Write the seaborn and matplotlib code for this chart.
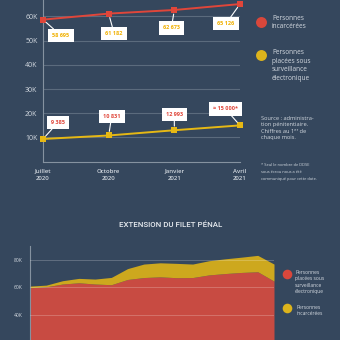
import matplotlib
matplotlib.use("Agg")
import matplotlib.pyplot as plt
import seaborn as sns
import pandas as pd

# ---------------- data ----------------
months = ["Juillet\n2020", "Octobre\n2020", "Janvier\n2021", "Avril\n2021"]
incarcerees = [58695, 61182, 62673, 65126]
surveillance = [9385, 10831, 12993, 15000]
incarcerees_labels = ["58 695", "61 182", "62 673", "65 126"]
surveillance_labels = ["9 385", "10 831", "12 993", "≈ 15 000*"]
top_yticks = [10000, 20000, 30000, 40000, 50000, 60000]
top_ytick_labels = ["10K", "20K", "30K", "40K", "50K", "60K"]

area_months = list(range(16))
area_red = [59700, 60400, 62400, 63300, 62400, 61900, 65700, 67100,
            67600, 67000, 67100, 69000, 70000, 70800, 71300, 64500]
area_yellow = [1200, 1200, 2400, 3200, 3600, 5300, 7900, 9800,
               10200, 10400, 9800, 10300, 10700, 11100, 11900, 12400]
bottom_yticks = [20000, 40000, 60000, 80000]
bottom_ytick_labels = ["20K", "40K", "60K", "80K"]

BG = "#35475d"
RED = "#e0463a"
YEL = "#e6b814"
AREA_RED = "#c84b42"
AREA_YEL = "#cda81e"
TXT = "#d3d9e0"
AXC = "#8592a0"
GRID = "#5b6b7d"

sns.set_style("white", {"axes.facecolor": BG, "figure.facecolor": BG})
plt.rcParams["font.family"] = ["Open Sans", "DejaVu Sans"]

fig = plt.figure(figsize=(3.4, 3.4), dpi=100)
fig.patch.set_facecolor(BG)

# ---------------- top chart ----------------
ax1 = fig.add_axes([43 / 340, 1 - 161.7 / 340, 197 / 340, 161.7 / 340])
ax1.set_facecolor(BG)
df = pd.DataFrame({
    "x": list(range(4)) * 2,
    "y": incarcerees + surveillance,
    "serie": ["inc"] * 4 + ["surv"] * 4,
})
sns.lineplot(data=df, x="x", y="y", hue="serie", palette={"inc": RED, "surv": YEL},
             marker="s", markersize=4.2, markeredgewidth=0, linewidth=1.4,
             ax=ax1, legend=False)
for ln in ax1.lines:
    ln.set_clip_on(False)
    ln.set_zorder(5)
ax1.set_xlim(0, 3)
ax1.set_ylim(0, 66800)
ax1.set_yticks(top_yticks)
ax1.set_yticklabels(top_ytick_labels)
ax1.set_xticks(range(4))
ax1.set_xticklabels(months, linespacing=1.5)
ax1.set_xlabel("")
ax1.set_ylabel("")
ax1.yaxis.grid(True, color=GRID, lw=0.8)
ax1.xaxis.grid(False)
ax1.tick_params(axis="y", length=0, pad=4, labelsize=5, labelcolor=TXT)
ax1.tick_params(axis="x", length=3, width=0.8, color=AXC, pad=2,
                labelsize=4.3, labelcolor=TXT)
for lab in ax1.get_xticklabels():
    lab.set_fontweight("semibold")
for s in ["top", "right"]:
    ax1.spines[s].set_visible(False)
for s in ["left", "bottom"]:
    ax1.spines[s].set_color(AXC)
    ax1.spines[s].set_linewidth(0.8)

inc_offsets = [(18, -16), (5.5, -20), (-3, -18), (-14, -19.6)]
surv_offsets = [(15, 16.5), (3, 19), (0, 16), (-14.5, 16.4)]
for i, (v, lab) in enumerate(zip(incarcerees, incarcerees_labels)):
    ax1.annotate(lab, xy=(i, v), xytext=inc_offsets[i], textcoords="offset pixels",
                 ha="center", va="center", fontsize=4, fontweight="bold", color="#f0b000",
                 bbox=dict(boxstyle="square,pad=0.75", fc="white", ec="none"),
                 arrowprops=dict(arrowstyle="-", color="white", lw=0.8,
                                 shrinkA=0, shrinkB=3), zorder=6,
                 annotation_clip=False)
for i, (v, lab) in enumerate(zip(surveillance, surveillance_labels)):
    ax1.annotate(lab, xy=(i, v), xytext=surv_offsets[i], textcoords="offset pixels",
                 ha="center", va="center", fontsize=4, fontweight="bold", color=RED,
                 bbox=dict(boxstyle="square,pad=0.75", fc="white", ec="none"),
                 arrowprops=dict(arrowstyle="-", color="white", lw=0.8,
                                 shrinkA=0, shrinkB=3), zorder=6,
                 annotation_clip=False)

# ---------------- bottom chart ----------------
ax2 = fig.add_axes([30 / 340, (340 - 370) / 340, 244 / 340, 124 / 340])
ax2.set_facecolor(BG)
ax2.stackplot(area_months, area_red, area_yellow, colors=[AREA_RED, AREA_YEL],
              linewidth=0)
ax2.set_xlim(0, 15)
ax2.set_ylim(0, 90000)
ax2.set_yticks(bottom_yticks)
ax2.set_yticklabels(bottom_ytick_labels)
ax2.set_xticks([])
ax2.yaxis.grid(True, color="#ffffff", alpha=0.22, lw=0.7)
ax2.set_axisbelow(False)
ax2.tick_params(axis="y", length=0, pad=5, labelsize=3.6, labelcolor=TXT)
for s in ["top", "right", "bottom"]:
    ax2.spines[s].set_visible(False)
ax2.spines["left"].set_color(AXC)
ax2.spines["left"].set_linewidth(0.8)

# ---------------- overlay texts / legends ----------------
ov = fig.add_axes([0, 0, 1, 1])
ov.set_xlim(0, 340)
ov.set_ylim(340, 0)
ov.axis("off")
ov.patch.set_alpha(0)

ov.scatter([261], [22], s=62, color="#d9473b", linewidths=0)
ov.scatter([261], [55], s=62, color="#ddb41c", linewidths=0)
ov.text(272, 22.5, "Personnes\nincarcérées", fontsize=4.7, color=TXT,
        va="center", ha="left", linespacing=1.3)
ov.text(272, 65.5, "Personnes\nplacées sous\nsurveillance\nélectronique", fontsize=4.7,
        color=TXT, va="center", ha="left", linespacing=1.3)
ov.text(261, 128, "Source : administra-\ntion pénitentiaire.\nChiffres au 1ᵉʳ de\nchaque mois.",
        fontsize=4.1, color=TXT, va="center", ha="left", linespacing=1.3)
ov.text(261, 172, "* Seul le nombre de DDSE\nsous écrou nous a été\ncommuniqué pour cette date.",
        fontsize=2.9, color=TXT, va="center", ha="left", linespacing=2.0)

ov.text(171, 224.5, "EXTENSION DU FILET PÉNAL", fontsize=5.7, color="#e9edf1",
        ha="center", va="center", family=["Roboto", "DejaVu Sans"], fontweight="medium")

ov.scatter([287.3], [274.3], s=48, color="#d9473b", linewidths=0)
ov.scatter([287.3], [308.3], s=48, color="#ddb41c", linewidths=0)
ov.text(295, 282, "Personnes\nplacées sous\nsurveillance\nélectronique", fontsize=3.6,
        color=TXT, va="center", ha="left", linespacing=1.3)
ov.text(296.5, 310.3, "Personnes\nincarcérées", fontsize=3.6, color=TXT,
        va="center", ha="left", linespacing=1.3)

fig.savefig("out.png", dpi=100, facecolor=BG)
